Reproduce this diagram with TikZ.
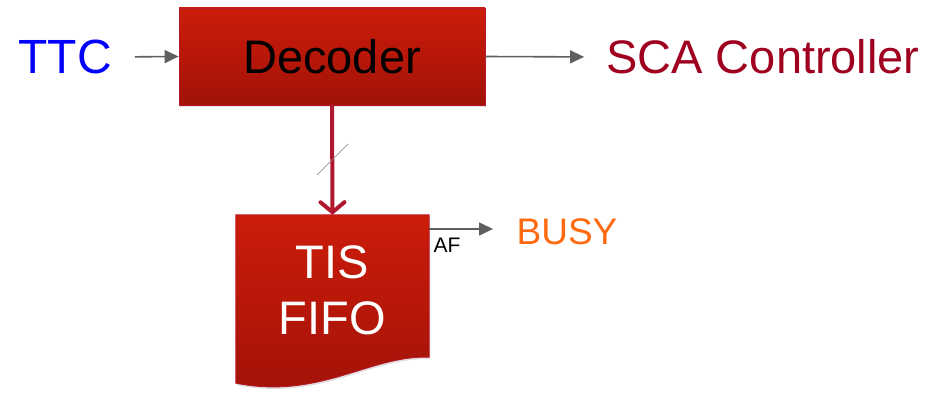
\documentclass[tikz,border=0pt]{standalone}
\usepackage{fontspec}
\setmainfont{Liberation Sans}
\usetikzlibrary{arrows.meta,shadows,positioning}
\definecolor{boxtop}{HTML}{CC1C0A}
\definecolor{boxbot}{HTML}{A11208}
\definecolor{boxedge}{HTML}{B8182A}
\definecolor{linkred}{HTML}{B01830}
\definecolor{scared}{HTML}{A00020}
\definecolor{ttcblue}{HTML}{0000FF}
\definecolor{busyorange}{HTML}{FF6A10}
\definecolor{wiregray}{HTML}{5F5F5F}
\tikzset{
  x=1pt, y=1pt,
  redbox/.style={top color=boxtop, bottom color=boxbot, draw=boxedge, line width=0.8pt,
    drop shadow={opacity=0.25, shadow xshift=1pt, shadow yshift=-2pt}},
  wire/.style={draw=wiregray, line width=1.6pt, -{Triangle[length=14pt,width=13pt]}},
  bigtext/.style={font=\fontsize{47}{51}\selectfont, inner sep=0pt},
}
\begin{document}
\begin{tikzpicture}
\useasboundingbox (0,0) rectangle (947,392);

% Decoder block
\node[redbox, minimum width=306, minimum height=97, inner sep=0pt,
      font=\fontsize{47}{51}\selectfont] (dec) at (332,335.5) {Decoder};

% Inputs and outputs of the decoder
\node[bigtext, text=ttcblue, font=\fontsize{48}{52}\selectfont] (ttc) at (65,335) {TTC};
\node[bigtext, text=scared] (sca) at (763,335) {SCA Controller};
\draw[wire, shorten <=23pt] (ttc.east) -- (dec.west);
\draw[wire, shorten >=22pt] (dec.east) -- (sca.west);

% TIS FIFO (document shape)
\node[minimum width=193, minimum height=168, inner sep=0pt] (fifo) at (332.5,93) {};
\path[redbox] (fifo.north west) -- (fifo.north east) -- ([yshift=26pt]fifo.south east)
   .. controls (370,37) and (320,-8) .. (fifo.south west) -- cycle;
\node[bigtext, text=white, align=center, font=\fontsize{47}{56}\selectfont] (fifolabel) at (332.5,102) {TIS\\FIFO};

% Bus from decoder to FIFO
\draw[draw=linkred, line width=4pt, line cap=round,
      -{Straight Barb[length=10pt,width=24pt,line cap=round]}] (dec.south) -- (fifo.north);
\coordinate (slashA) at (317,217);
\coordinate (slashB) at (348,248);
\draw[draw=gray, line width=0.6pt] (slashA) -- (slashB);

% Almost-full flag
\coordinate (afstart) at (429,163);
\node[inner sep=0pt, font=\fontsize{37}{41}\selectfont, text=busyorange] (busy) at (567,160) {BUSY};
\coordinate (afend) at (493,163);
\draw[wire] (afstart) -- (afend);
\node[inner sep=0pt, font=\fontsize{21}{24}\selectfont] (af) at (447,147) {AF};
\end{tikzpicture}
\end{document}
